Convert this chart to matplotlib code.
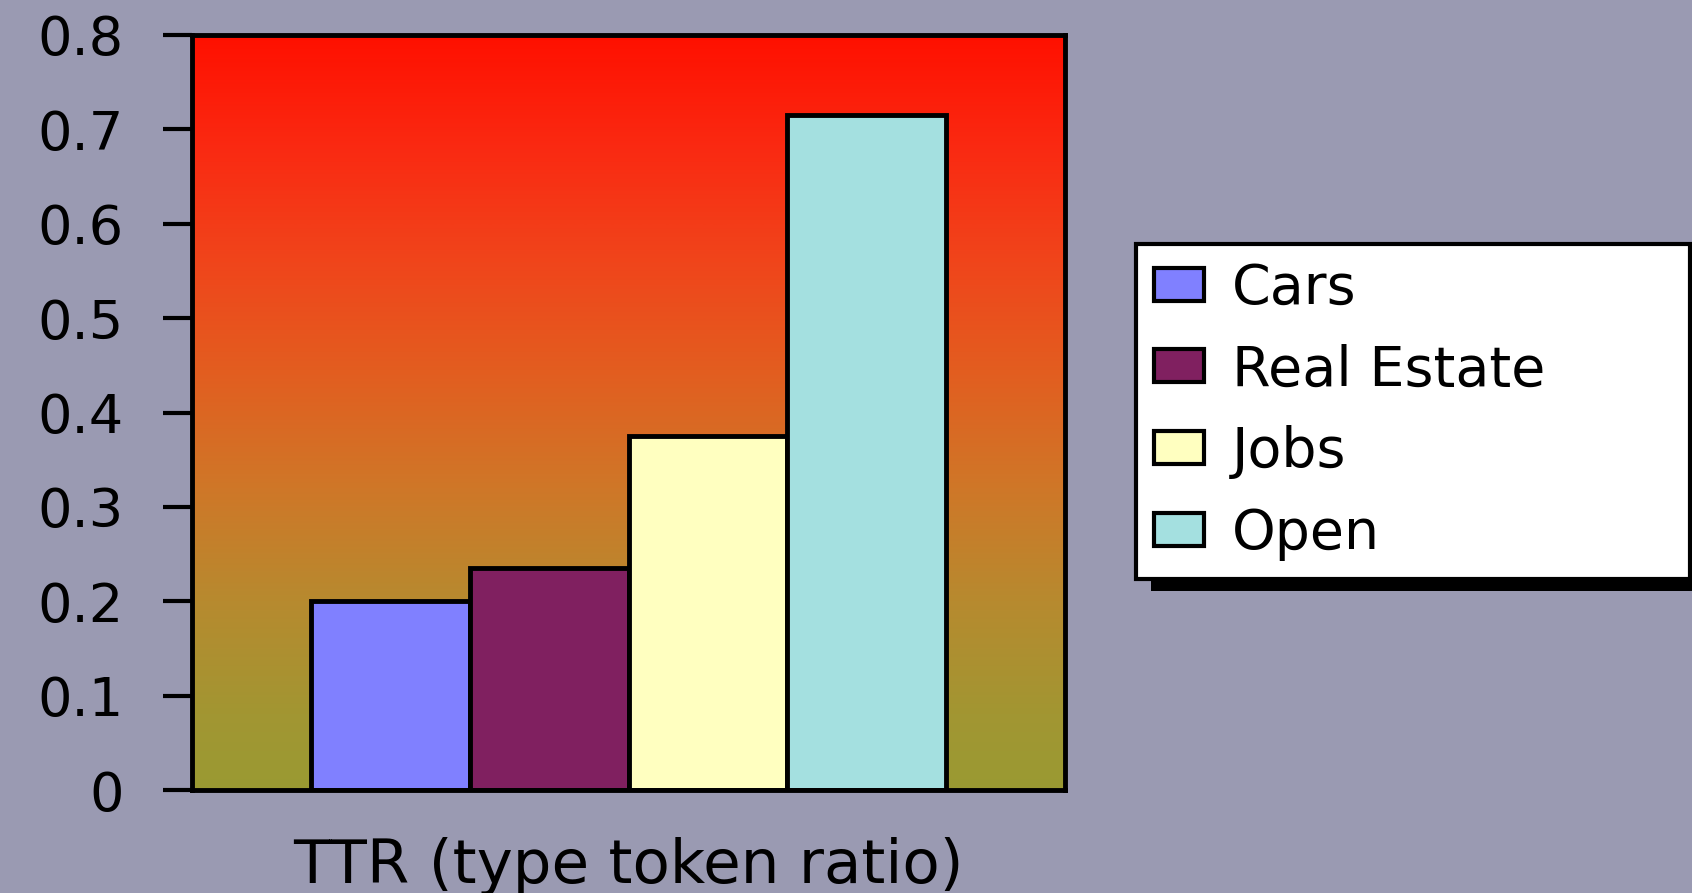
import numpy as np
import matplotlib
matplotlib.use("Agg")
import matplotlib.pyplot as plt
from matplotlib.colors import LinearSegmentedColormap
from matplotlib.patches import Rectangle

# ---- data ----
categories = ["Cars", "Real Estate", "Jobs", "Open"]
values = [0.20, 0.235, 0.375, 0.715]
bar_colors = ["#8080FF", "#802060", "#FFFFC0", "#A4E0E0"]
yticks = [0, 0.1, 0.2, 0.3, 0.4, 0.5, 0.6, 0.7, 0.8]
ytick_labels = ["0", "0.1", "0.2", "0.3", "0.4", "0.5", "0.6", "0.7", "0.8"]
xlabel = "TTR (type token ratio)"

W, H, DPI = 1692, 893, 100
plt.rcParams['font.family'] = ['DejaVu Sans']
fig = plt.figure(figsize=(W / DPI, H / DPI), dpi=DPI, facecolor="#9A9AB2")

L, R, T, B = 192, 1065, 35, 790
ax = fig.add_axes([L / W, (H - B) / H, (R - L) / W, (B - T) / H])
ax.set_facecolor("none")

# gradient background (bottom olive -> top red)
grad_stops = [(0.0, "#9A9A33"), (0.1, "#A29632"), (0.25, "#B78A2F"),
              (0.4, "#CF7728"), (0.55, "#E25E20"), (0.7, "#F0451B"),
              (0.85, "#FA2A12"), (1.0, "#FF1000")]
cmap = LinearSegmentedColormap.from_list("bg", grad_stops)
grad = np.linspace(0, 1, 256).reshape(-1, 1)
ax.imshow(grad, extent=[0, 1, 0, 1], transform=ax.transAxes, aspect="auto",
          cmap=cmap, origin="lower", zorder=0, interpolation="bilinear")

w = 0.182
n = len(categories)
xpos = [(i - (n - 1) / 2) * w for i in range(n)]
ax.bar(xpos, values, width=w, color=bar_colors, edgecolor="black",
       linewidth=3.5, zorder=2)

ax.set_xlim(-0.5, 0.5)
ax.set_ylim(0, 0.8)
ax.set_yticks(yticks)
ax.set_yticklabels(ytick_labels)
ax.set_xticks([])
ax.tick_params(axis="y", direction="out", length=21, width=3, pad=28,
               labelsize=39, colors="black")
for s in ax.spines.values():
    s.set_linewidth(3.5)
    s.set_color("black")
    s.set_zorder(3)

ax.set_xlabel(xlabel, fontsize=44)
ax.xaxis.set_label_coords(0.5, -(883 - B) / (B - T))
ax.xaxis.label.set_va("baseline")

handles = [Rectangle((0, 0), 1, 1, facecolor=c, edgecolor="black", linewidth=3)
           for c in bar_colors]
lx0, ly0, lx1, ly1 = 1136, 244, 1690, 577
leg = fig.legend(handles, categories, loc="upper left",
                 bbox_to_anchor=(lx0 / W, 1 - ly1 / H, (lx1 - lx0) / W, (ly1 - ly0) / H),
                 mode="expand", borderaxespad=0, fontsize=40,
                 handlelength=0.9, handleheight=0.54, handletextpad=0.5,
                 labelspacing=0.5, borderpad=0.32, fancybox=False,
                 frameon=True, framealpha=1)
leg.get_frame().set_edgecolor("black")
leg.get_frame().set_linewidth(3)
leg.get_frame().set_facecolor("white")
leg.set_zorder(5)

fig.canvas.draw()
bb = leg.get_window_extent()
shadow = Rectangle((bb.x0 + 15, bb.y0 - 12), bb.width, bb.height,
                   transform=None, facecolor="black", edgecolor="none", zorder=4)
fig.add_artist(shadow)

fig.savefig("out.png", dpi=DPI, facecolor=fig.get_facecolor())
